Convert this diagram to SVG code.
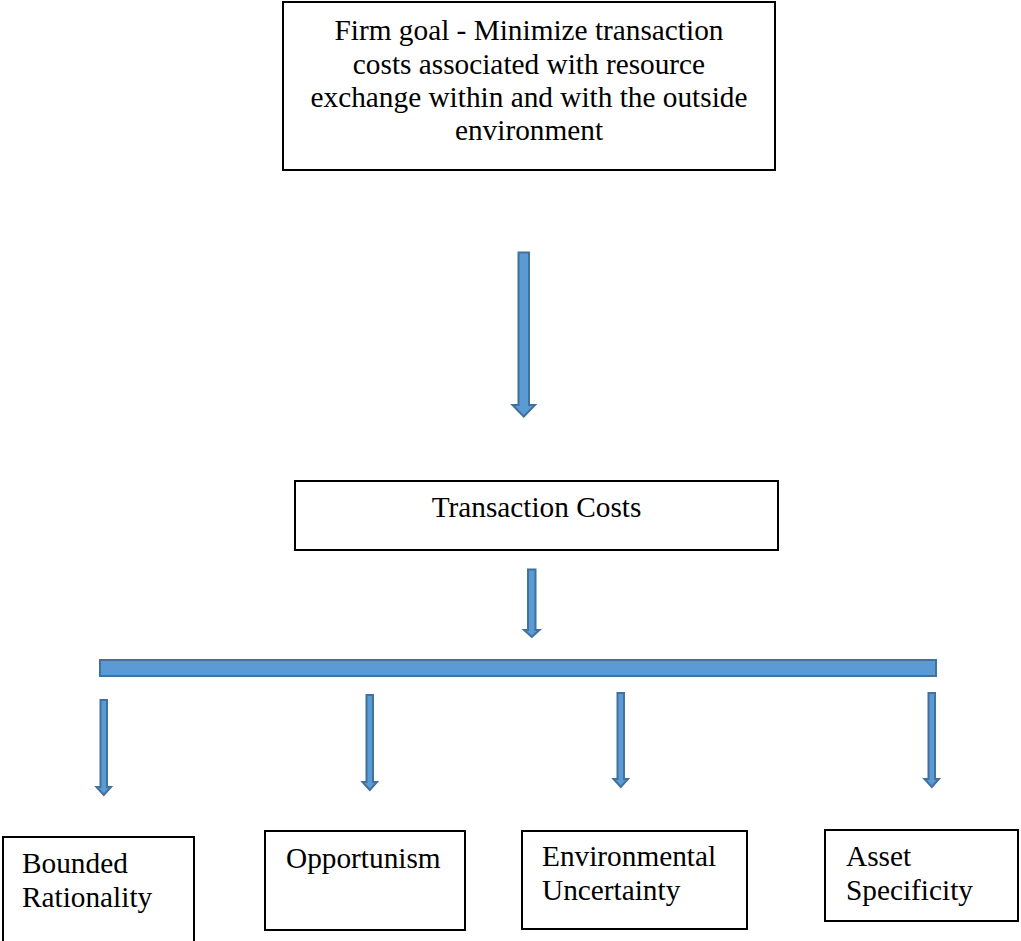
<svg xmlns="http://www.w3.org/2000/svg" width="1021" height="941" viewBox="0 0 1021 941">
<style>
.box{fill:#fff;stroke:#000;stroke-width:2}
.t{font-family:"Liberation Serif","Times New Roman",serif;font-size:29.3px;fill:#000}
.c{text-anchor:middle}
.arr{fill:#5B9BD5;stroke:#41719C;stroke-width:2;stroke-linejoin:miter}
</style>
<rect width="1021" height="941" fill="#fff"/>
<g id="connectors">
<path class="arr" d="M518.5,252.5 H529 V405 H535 L523.8,416.5 L512.5,405 H518.5 Z"/>
<path class="arr" d="M528,569.5 H535.5 V630 H539.5 L531.8,637 L524,630 H528 Z"/>
<rect class="arr" x="100" y="660" width="836" height="16"/>
<path class="arr" d="M100.5,700 H107 V787 H111 L103.8,795 L96.5,787 H100.5 Z"/>
<path class="arr" d="M366.5,695 H373 V782 H377 L369.8,790 L362.5,782 H366.5 Z"/>
<path class="arr" d="M617.5,693 H624 V779 H628 L620.8,787 L613.5,779 H617.5 Z"/>
<path class="arr" d="M928.5,693 H935 V779 H939 L931.8,787 L924.5,779 H928.5 Z"/>
</g>
<g id="firm-goal">
<rect class="box" x="283" y="2" width="492" height="168"/>
<text class="t c" x="529" y="40">Firm goal - Minimize transaction</text>
<text class="t c" x="529" y="73.5">costs associated with resource</text>
<text class="t c" x="529" y="107">exchange within and with the outside</text>
<text class="t c" x="529" y="140">environment</text>
</g>
<g id="transaction-costs">
<rect class="box" x="295" y="481" width="483" height="69"/>
<text class="t c" x="536.5" y="517">Transaction Costs</text>
</g>
<g id="bounded-rationality">
<rect class="box" x="3" y="837" width="191" height="110"/>
<text class="t" x="22" y="873">Bounded</text>
<text class="t" x="22" y="907">Rationality</text>
</g>
<g id="opportunism">
<rect class="box" x="265" y="831" width="200" height="99"/>
<text class="t" x="286" y="868">Opportunism</text>
</g>
<g id="environmental-uncertainty">
<rect class="box" x="522" y="831" width="225" height="98"/>
<text class="t" x="542" y="866">Environmental</text>
<text class="t" x="542" y="900">Uncertainty</text>
</g>
<g id="asset-specificity">
<rect class="box" x="825" y="830" width="193" height="91"/>
<text class="t" x="846" y="866">Asset</text>
<text class="t" x="846" y="900">Specificity</text>
</g>
</svg>
